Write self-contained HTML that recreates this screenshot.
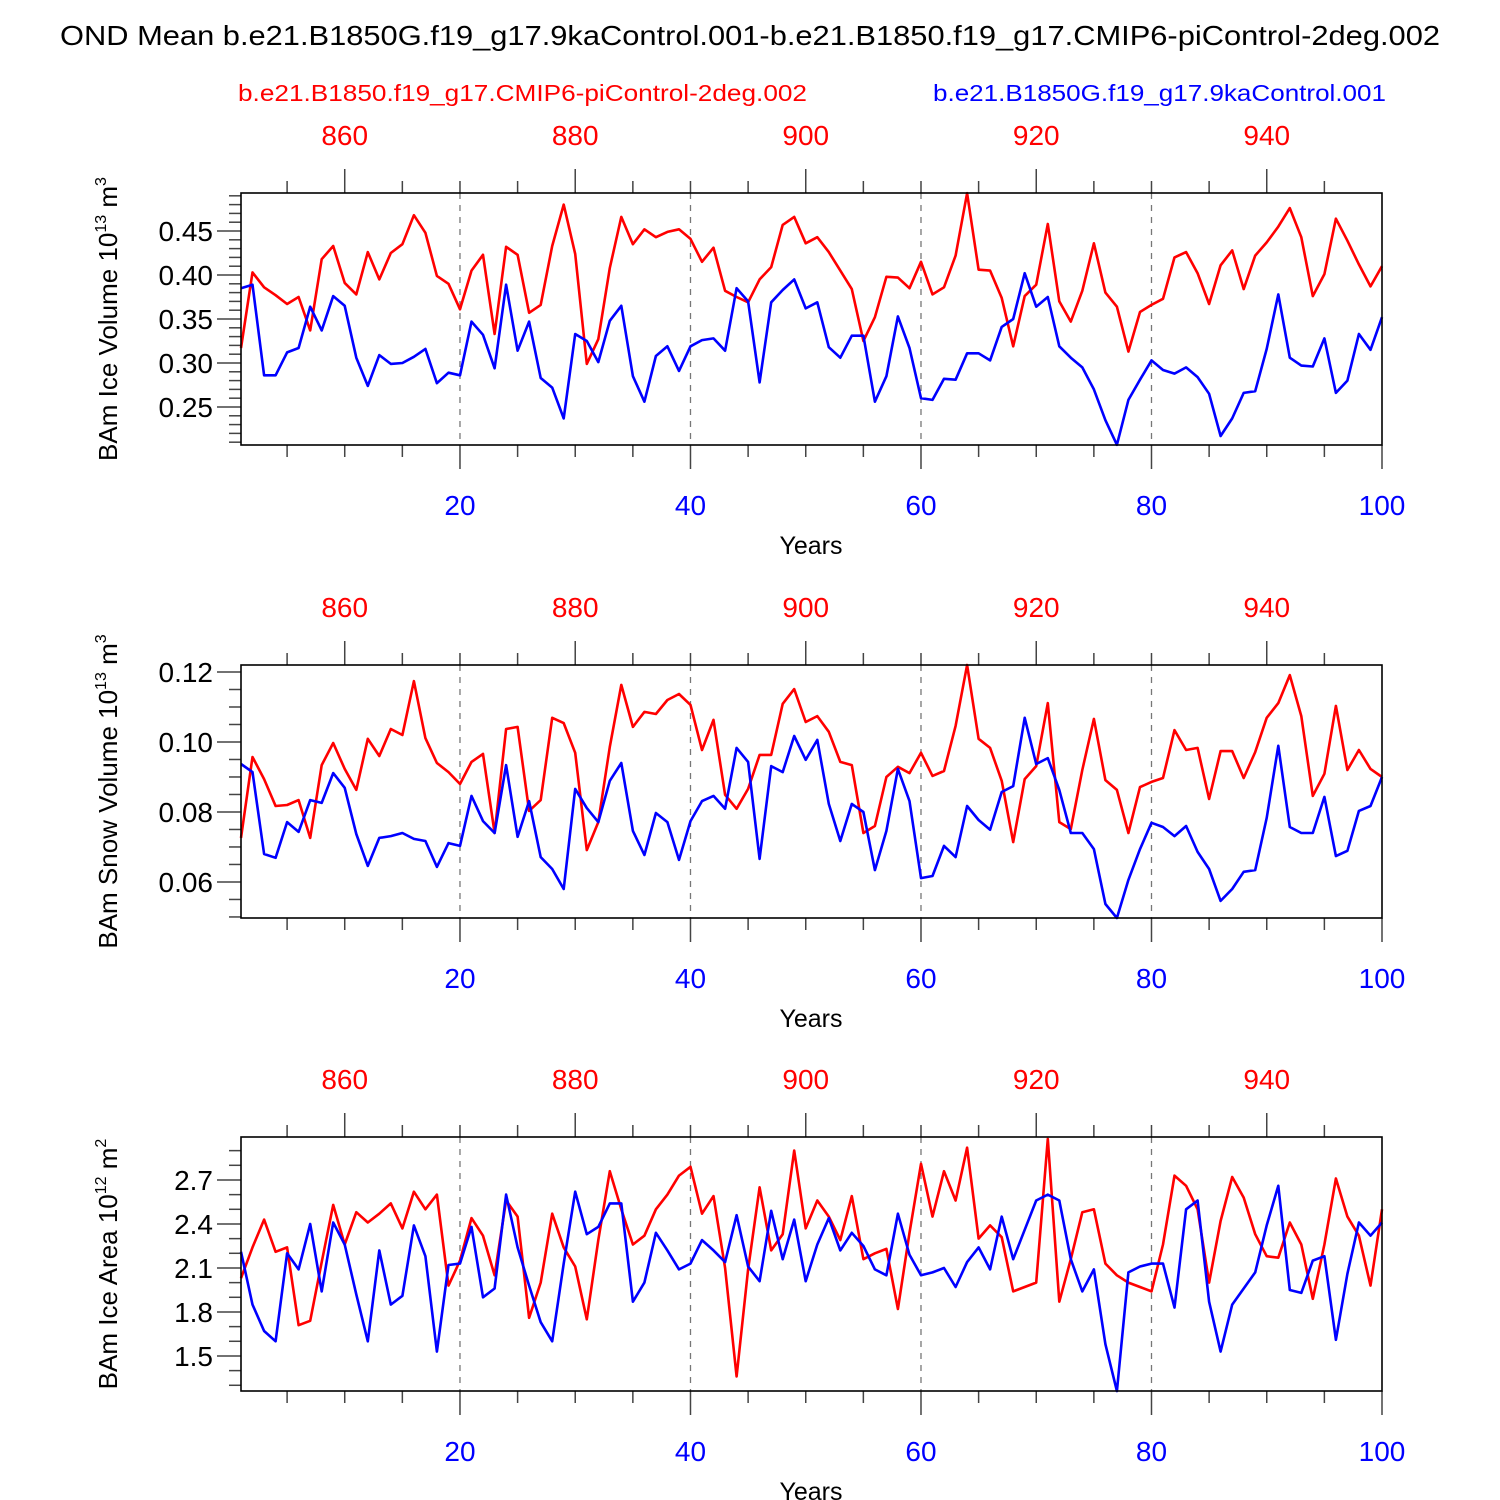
<!DOCTYPE html>
<html><head><meta charset="utf-8"><style>
body{margin:0;background:#fff}
svg{display:block;font-family:"Liberation Sans",sans-serif}
</style></head><body>
<svg id="chart" width="1500" height="1500" viewBox="0 0 1500 1500" xmlns="http://www.w3.org/2000/svg">
<text x="60" y="45" font-size="28" textLength="1380" lengthAdjust="spacingAndGlyphs">OND Mean b.e21.B1850G.f19_g17.9kaControl.001-b.e21.B1850.f19_g17.CMIP6-piControl-2deg.002</text>
<text x="238" y="101" font-size="23" fill="#f00" textLength="569" lengthAdjust="spacingAndGlyphs">b.e21.B1850.f19_g17.CMIP6-piControl-2deg.002</text>
<text x="933" y="101" font-size="23" fill="#00f" textLength="453" lengthAdjust="spacingAndGlyphs">b.e21.B1850G.f19_g17.9kaControl.001</text>
</svg>
<script>
const years = Array.from({length:100},(_,i)=>i+1);
const topTickLabels = [860,880,900,920,940];
const bottomTickLabels = [20,40,60,80,100];
const iceVolRed = [0.317,0.403,0.386,0.377,0.367,0.375,0.337,0.418,0.433,0.391,0.378,0.426,0.395,0.425,0.435,0.468,0.448,0.399,0.39,0.361,0.405,0.423,0.333,0.432,0.423,0.357,0.366,0.433,0.48,0.424,0.299,0.327,0.408,0.466,0.435,0.452,0.443,0.449,0.452,0.441,0.415,0.431,0.382,0.375,0.369,0.395,0.409,0.457,0.466,0.436,0.443,0.426,0.405,0.384,0.325,0.352,0.398,0.397,0.385,0.415,0.378,0.386,0.422,0.493,0.406,0.405,0.374,0.319,0.376,0.389,0.458,0.37,0.347,0.382,0.436,0.38,0.364,0.313,0.358,0.366,0.373,0.42,0.426,0.402,0.367,0.411,0.428,0.384,0.422,0.437,0.455,0.476,0.443,0.376,0.401,0.464,0.439,0.412,0.387,0.410];
const iceVolBlue = [0.385,0.389,0.286,0.286,0.312,0.317,0.364,0.337,0.376,0.365,0.306,0.274,0.309,0.299,0.3,0.307,0.316,0.277,0.289,0.286,0.347,0.332,0.294,0.389,0.314,0.347,0.283,0.272,0.237,0.333,0.325,0.301,0.348,0.365,0.285,0.256,0.308,0.319,0.291,0.319,0.326,0.328,0.314,0.385,0.37,0.278,0.369,0.383,0.395,0.362,0.369,0.318,0.306,0.331,0.331,0.256,0.285,0.353,0.317,0.26,0.258,0.282,0.281,0.311,0.311,0.303,0.341,0.35,0.402,0.364,0.375,0.319,0.306,0.295,0.27,0.235,0.207,0.258,0.281,0.303,0.292,0.288,0.295,0.284,0.265,0.217,0.237,0.266,0.268,0.316,0.378,0.306,0.297,0.296,0.328,0.266,0.28,0.333,0.315,0.352];
const snowVolRed = [0.0726,0.0957,0.0894,0.0817,0.082,0.0834,0.0726,0.0934,0.0997,0.0923,0.0863,0.1009,0.096,0.1037,0.102,0.1174,0.1011,0.094,0.0914,0.088,0.0943,0.0966,0.074,0.1037,0.1043,0.0803,0.0834,0.1069,0.1054,0.0969,0.0691,0.0771,0.0986,0.1163,0.1043,0.1086,0.108,0.112,0.1137,0.1106,0.0977,0.1063,0.0849,0.0809,0.0866,0.0963,0.0963,0.1109,0.1151,0.1057,0.1074,0.1029,0.0943,0.0934,0.074,0.076,0.09,0.0929,0.0911,0.0969,0.0903,0.0917,0.1046,0.122,0.1009,0.0983,0.0889,0.0714,0.0894,0.0931,0.1111,0.0771,0.0751,0.092,0.1066,0.0891,0.0863,0.074,0.0871,0.0886,0.0897,0.1034,0.0977,0.0983,0.0837,0.0974,0.0974,0.0897,0.0971,0.1069,0.1111,0.1191,0.1074,0.0846,0.0909,0.1103,0.092,0.0977,0.0923,0.09];
const snowVolBlue = [0.0937,0.0914,0.068,0.0669,0.0771,0.0743,0.0834,0.0826,0.0911,0.0869,0.0737,0.0646,0.0726,0.0731,0.074,0.0723,0.0717,0.0643,0.0711,0.0703,0.0846,0.0774,0.074,0.0934,0.0729,0.0831,0.0671,0.0637,0.058,0.0866,0.0811,0.0771,0.0889,0.094,0.0746,0.0677,0.0797,0.0771,0.0663,0.0774,0.0831,0.0846,0.0809,0.0983,0.0943,0.0666,0.0931,0.0914,0.1017,0.0949,0.1006,0.0823,0.0717,0.0823,0.08,0.0634,0.0746,0.0923,0.0831,0.0611,0.0617,0.0703,0.0671,0.0817,0.0777,0.0749,0.0857,0.0874,0.1069,0.0937,0.0954,0.0863,0.074,0.074,0.0694,0.0537,0.0497,0.0606,0.0694,0.0769,0.0757,0.0731,0.076,0.0686,0.0637,0.0546,0.058,0.0629,0.0634,0.0783,0.0989,0.0757,0.074,0.074,0.0843,0.0674,0.0689,0.0803,0.0817,0.09];
const iceAreaRed = [2.03,2.24,2.43,2.21,2.24,1.71,1.74,2.14,2.53,2.26,2.48,2.41,2.47,2.54,2.37,2.62,2.5,2.6,1.98,2.15,2.44,2.32,2.05,2.56,2.45,1.76,2.0,2.47,2.24,2.11,1.75,2.29,2.76,2.5,2.26,2.32,2.5,2.6,2.73,2.79,2.47,2.59,2.1,1.36,2.09,2.65,2.22,2.33,2.9,2.37,2.56,2.45,2.29,2.59,2.16,2.2,2.23,1.82,2.34,2.81,2.45,2.76,2.56,2.92,2.3,2.39,2.31,1.94,1.97,2.0,2.98,1.87,2.16,2.48,2.5,2.13,2.05,2.0,1.97,1.94,2.26,2.73,2.66,2.5,2.0,2.42,2.72,2.58,2.33,2.18,2.17,2.41,2.26,1.89,2.26,2.71,2.45,2.32,1.98,2.5];
const iceAreaBlue = [2.21,1.85,1.67,1.6,2.2,2.09,2.4,1.94,2.41,2.26,1.92,1.6,2.22,1.85,1.91,2.39,2.18,1.53,2.12,2.13,2.38,1.9,1.96,2.6,2.24,1.98,1.73,1.6,2.13,2.62,2.33,2.38,2.54,2.54,1.87,2.0,2.34,2.22,2.09,2.13,2.29,2.22,2.14,2.46,2.11,2.01,2.49,2.16,2.43,2.01,2.26,2.44,2.22,2.34,2.25,2.09,2.05,2.47,2.19,2.05,2.07,2.1,1.97,2.14,2.24,2.09,2.45,2.16,2.36,2.56,2.6,2.56,2.16,1.94,2.09,1.58,1.26,2.07,2.11,2.13,2.13,1.83,2.5,2.56,1.87,1.53,1.85,1.96,2.07,2.39,2.66,1.95,1.93,2.15,2.18,1.61,2.06,2.41,2.32,2.41];

const NS="http://www.w3.org/2000/svg";
const svg=document.getElementById('chart');
function mk(tag,attrs,parent,txt){const e=document.createElementNS(NS,tag);for(const k in attrs)e.setAttribute(k,attrs[k]);if(txt!==undefined)e.textContent=txt;(parent||svg).appendChild(e);return e;}
const X0=241,X1=1382;
const xs=v=>X0+(v-1)*(X1-X0)/99;

const panels=[
 {top:193,bot:445,ymin:0.2068,ymax:0.4932,ticks:[0.25,0.30,0.35,0.40,0.45],minor:0.01,fmt:v=>v.toFixed(2),red:iceVolRed,blue:iceVolBlue,title:'BAm Ice Volume 10',exp:'13',unit:' m',uexp:'3',name:'ice-volume'},
 {top:665,bot:918,ymin:0.0497,ymax:0.122,ticks:[0.06,0.08,0.10,0.12],minor:0.005,fmt:v=>v.toFixed(2),red:snowVolRed,blue:snowVolBlue,title:'BAm Snow Volume 10',exp:'13',unit:' m',uexp:'3',name:'snow-volume'},
 {top:1137,bot:1391,ymin:1.261,ymax:2.993,ticks:[1.5,1.8,2.1,2.4,2.7],minor:0.1,fmt:v=>v.toFixed(1),red:iceAreaRed,blue:iceAreaBlue,title:'BAm Ice Area 10',exp:'12',unit:' m',uexp:'2',name:'ice-area'}
];
panels.forEach(p=>{
 const g=mk('g',{});
 
 
 const ys=v=>p.bot-(v-p.ymin)/(p.ymax-p.ymin)*(p.bot-p.top);
 [20,40,60,80].forEach(v=>{const l=mk('line',{x1:xs(v),x2:xs(v),y1:p.top,y2:p.bot,stroke:'#777','stroke-width':1.3,'stroke-dasharray':'6,6'},g);
  });
 for(let v=5;v<=100;v+=5){
  const maj=v%20===0;
  const b=mk('line',{x1:xs(v),x2:xs(v),y1:p.bot,y2:p.bot+(maj?24:12),stroke:'#444','stroke-width':1.5},g);
  
 }
 for(let yr=855;yr<=949;yr+=5){
  const v=yr-850;const maj=yr%20===0;
  const t=mk('line',{x1:xs(v),x2:xs(v),y1:p.top,y2:p.top-(maj?24:12),stroke:'#444','stroke-width':1.5},g);
  
 }
 topTickLabels.forEach(yr=>{const t=mk('text',{x:xs(yr-850),y:p.top-48,'font-size':28,fill:'#f00','text-anchor':'middle'},g,String(yr));
  });
 bottomTickLabels.forEach(v=>{const t=mk('text',{x:xs(v),y:p.bot+70,'font-size':28,fill:'#00f','text-anchor':'middle'},g,String(v));
  });
 const xt=mk('text',{x:811,y:p.bot+109,'font-size':25,'text-anchor':'middle'},g,'Years');
 
 const startM=Math.ceil(p.ymin/p.minor-1e-6);
 for(let k=startM;k*p.minor<=p.ymax+1e-9;k++){
  const v=k*p.minor;const maj=p.ticks.some(t=>Math.abs(t-v)<1e-6);
  const l=mk('line',{x1:X0,x2:X0-(maj?24:12),y1:ys(v),y2:ys(v),stroke:'#444','stroke-width':1.5},g);
  
 }
 p.ticks.forEach(v=>{const t=mk('text',{x:X0-28,y:ys(v)+10,'font-size':28,'text-anchor':'end'},g,p.fmt(v));
  });
 const cy=(p.top+p.bot)/2;
 const yt=mk('text',{x:0,y:0,'font-size':26,'text-anchor':'middle',transform:`translate(117,${cy}) rotate(-90)`},g);
 
 mk('tspan',{},yt,p.title);mk('tspan',{dy:-11,'font-size':16},yt,p.exp);mk('tspan',{dy:11},yt,p.unit);mk('tspan',{dy:-11,'font-size':16},yt,p.uexp);
 [['red',p.red,'#f00'],['blue',p.blue,'#00f']].forEach(([nm,arr,c])=>{
  const d=arr.map((v,i)=>(i?'L':'M')+xs(years[i]).toFixed(1)+','+ys(v).toFixed(1)).join('');
  const pth=mk('path',{d,fill:'none',stroke:c,'stroke-width':2.6,'stroke-linejoin':'round'},g);
  
  
 });
 const fr=mk('rect',{x:X0,y:p.top,width:X1-X0,height:p.bot-p.top,fill:'none',stroke:'#000','stroke-width':1.6},g);
 
});
</script>
</body></html>
